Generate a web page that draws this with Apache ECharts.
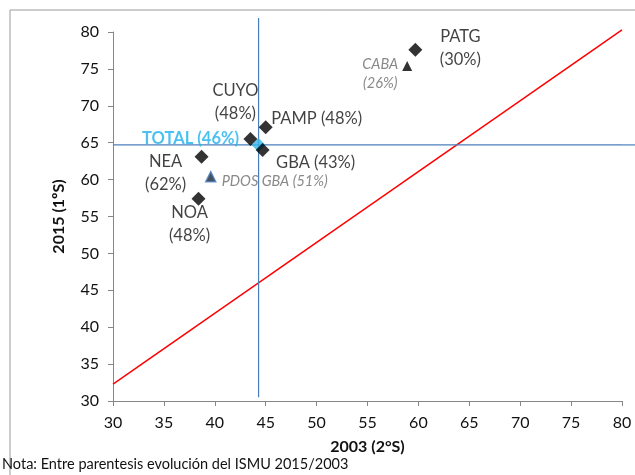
<!DOCTYPE html>
<html><head><meta charset="utf-8">
<script src="https://cdn.jsdelivr.net/npm/echarts@6/dist/echarts.min.js"></script>
<style>html,body{margin:0;padding:0;background:#fff}#c{width:635px;height:475px}</style>
</head><body><div id="c"></div>
<script>
// Data
const regions = ['PATG','CUYO','PAMP','GBA','NEA','NOA'];
const regionsX2003 = [59.7, 43.5, 45.0, 44.7, 38.7, 38.4];
const regionsY2015 = [77.6, 65.5, 67.1, 64.0, 63.1, 57.4];
const regionsPct = ['30%','48%','48%','43%','62%','48%'];

const subRegions = ['CABA','PDOS GBA'];
const subX2003 = [58.9, 39.6];
const subY2015 = [75.4, 60.4];
const subPct = ['26%','51%'];

const totalName = 'TOTAL';
const totalX2003 = 44.3;
const totalY2015 = 64.7;
const totalPct = '46%';

const refLineX = [30, 80];
const refLineY = [32.3, 80.3];

const xTicks = [30,35,40,45,50,55,60,65,70,75,80];
const yTicks = [30,35,40,45,50,55,60,65,70,75,80];

// Layout (label placement, not data)
const labelLayout = {
  PATG:{offset:[45,-2], two:true},
  CUYO:{offset:[-15,-37], two:true},
  PAMP:{offset:[51,-9], two:false},
  GBA:{offset:[53,13], two:false},
  NEA:{offset:[-36,16], two:true},
  NOA:{offset:[-9,25], two:true},
  CABA:{offset:[-27,8], two:true},
  'PDOS GBA':{offset:[64,5], two:false}
};

const FONT = 'Lato';
const chart = echarts.init(document.getElementById('c'), null, {renderer:'canvas'});

function mkLabel(name, pct, style){
  const L = labelLayout[name];
  const txt = L.two ? name + '\n(' + pct + ')' : name + ' (' + pct + ')';
  return Object.assign({
    show:true, position:'inside', offset:L.offset, formatter:txt,
    align:'center', verticalAlign:'middle', lineHeight:23,
    fontFamily:FONT, fontSize:16.5, color:'#111'
  }, style||{});
}

const regionData = regions.map((n,i)=>({
  name:n, value:[regionsX2003[i], regionsY2015[i]], label: mkLabel(n, regionsPct[i])
}));
const subData = subRegions.map((n,i)=>({
  name:n, value:[subX2003[i], subY2015[i]],
  label: mkLabel(n, subPct[i], {fontStyle:'italic', color:'#6b6b6b', fontSize:14.5, lineHeight:19}),
  itemStyle: n==='PDOS GBA' ? {color:'#17243a', borderColor:'#4a7ebb', borderWidth:1.5} : {color:'#000'}
}));

const option = {
  animation:false,
  backgroundColor:'#fff',
  grid:{left:113, right:13, top:32, bottom:74},
  xAxis:{
    type:'value', min:30, max:80, interval:5,
    name:'2003 (2°S)', nameLocation:'middle', nameGap:38,
    nameTextStyle:{fontFamily:FONT, fontSize:16, fontWeight:'bold', color:'#111'},
    axisLine:{show:true, lineStyle:{color:'#868686'}},
    axisTick:{show:true, inside:false, length:5, lineStyle:{color:'#868686'}},
    axisLabel:{fontFamily:FONT, fontSize:16, color:'#111', margin:14,
      formatter:v=>xTicks.includes(v)?String(v):''},
    splitLine:{show:false}
  },
  yAxis:{
    type:'value', min:30, max:80, interval:5,
    name:'2015 (1ºS)', nameLocation:'middle', nameGap:46, nameRotate:90,
    nameTextStyle:{fontFamily:FONT, fontSize:16, fontWeight:'bold', color:'#111'},
    axisLine:{show:true, lineStyle:{color:'#868686'}},
    axisTick:{show:true, inside:false, length:5, lineStyle:{color:'#868686'}},
    axisLabel:{fontFamily:FONT, fontSize:16, color:'#111', margin:14,
      formatter:v=>yTicks.includes(v)?String(v):''},
    splitLine:{show:false}
  },
  graphic:[
    {type:'line', shape:{x1:10, y1:10, x2:635, y2:10}, style:{stroke:'#9a9a9a', lineWidth:1}},
    {type:'line', shape:{x1:10, y1:10, x2:10, y2:475}, style:{stroke:'#9a9a9a', lineWidth:1}},
    {type:'text', left:2, top:457, style:{text:'Nota: Entre parentesis evolución del ISMU 2015/2003',
      fontFamily:FONT, fontSize:14.5, fill:'#111'}}
  ],
  series:[
    {type:'line', data:[[refLineX[0],refLineY[0]],[refLineX[1],refLineY[1]]], symbol:'none',
      lineStyle:{color:'#ff0000', width:1.5}, clip:false, z:1, silent:true},
    {type:'line', data:[[totalX2003,30.5],[totalX2003,81.9]], symbol:'none',
      lineStyle:{color:'#4a7ebb', width:1.2}, clip:false, z:1, silent:true},
    {type:'line', data:[[30,totalY2015],[80,totalY2015]], symbol:'none',
      lineStyle:{color:'#4a7ebb', width:1.2}, clip:false, z:1, silent:true},
    {type:'scatter', symbol:'diamond', symbolSize:14, itemStyle:{color:'#000'}, data:regionData, z:3},
    {type:'scatter', symbol:'triangle', symbolSize:10, data:subData, z:3},
    {type:'scatter', symbol:'diamond', symbolSize:14, itemStyle:{color:'#33b6ea'}, z:2,
      data:[{name:totalName, value:[totalX2003,totalY2015],
        label:{show:true, position:'inside', offset:[-68,-6], formatter:totalName+' ('+totalPct+')',
          align:'center', verticalAlign:'middle', fontFamily:FONT, fontSize:16.5, fontWeight:'bold', color:'#1fb0ee'}}]}
  ]
};
chart.setOption(option);
// extend the TOTAL horizontal guide to the right edge, as in the source chart
const p = chart.convertToPixel({gridIndex:0}, [80, totalY2015]);
chart.setOption({graphic: option.graphic.concat([
  {type:'line', shape:{x1:p[0], y1:p[1], x2:635, y2:p[1]}, style:{stroke:'#4a7ebb', lineWidth:1.2}, z:1}
])});
</script></body></html>
